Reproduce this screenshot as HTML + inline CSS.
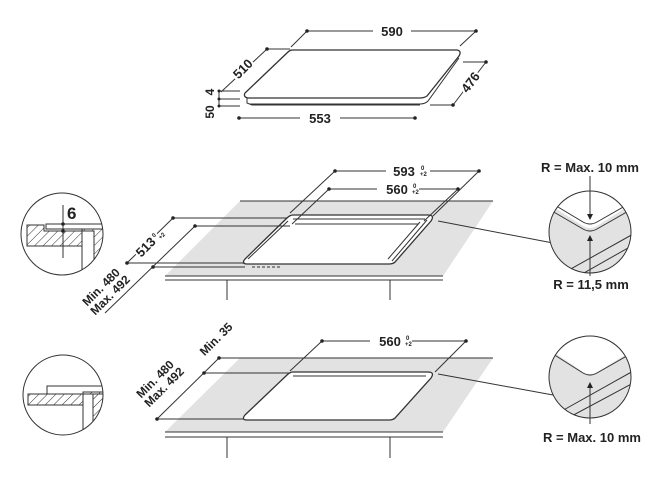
<!DOCTYPE html>
<html><head><meta charset="utf-8"><style>
html,body{margin:0;padding:0;background:#fff;}
svg{display:block;}
text{font-family:"Liberation Sans",sans-serif;font-weight:bold;fill:#222;}
</style></head><body>
<svg width="672" height="481" viewBox="0 0 672 481" xmlns="http://www.w3.org/2000/svg">
<defs>
<pattern id="h" width="6" height="6" patternUnits="userSpaceOnUse" patternTransform="rotate(45)"><line x1="0" y1="0" x2="0" y2="6" stroke="#333" stroke-width="1"/></pattern>
<clipPath id="c1"><circle cx="590" cy="232" r="41"/></clipPath>
<clipPath id="c2"><circle cx="590" cy="377" r="41"/></clipPath>
<clipPath id="c3"><circle cx="62" cy="234" r="41"/></clipPath>
<clipPath id="c4"><circle cx="63" cy="395" r="40"/></clipPath>
</defs>
<g stroke="#333" fill="none" stroke-width="1">
<!-- TOP HOB -->
<path d="M292,50 L457,50 Q462,51 459,56 L427,96 Q424,98 420,98 L248,98 Q243,97 245,93 L288,52 Q290,50 292,50 Z" stroke-width="1.3"/>
<path d="M459,58 L428,101 Q425,104 420,104 L250,104" />
<path d="M247,98 L247,103 L252,105 L420,105"/>
<line x1="307" y1="31" x2="476" y2="31"/><line x1="307" y1="31" x2="291" y2="47"/><line x1="476" y1="31" x2="460" y2="46"/>
<line x1="267" y1="49" x2="221" y2="92"/><line x1="267" y1="49" x2="290" y2="49"/>
<line x1="486" y1="62" x2="453" y2="105"/><line x1="463" y1="62" x2="486" y2="62"/><line x1="430" y1="105" x2="453" y2="105"/>
<line x1="239" y1="118" x2="415" y2="118"/>
<line x1="219" y1="91" x2="219" y2="106"/>
<line x1="219" y1="91" x2="240" y2="91"/><line x1="219" y1="99" x2="240" y2="99"/><line x1="219" y1="106" x2="240" y2="106"/>
</g>
<g fill="#222">
<circle cx="307" cy="31" r="1.8"/><circle cx="476" cy="31" r="1.8"/><circle cx="267" cy="49" r="1.8"/>
<circle cx="486" cy="62" r="1.8"/><circle cx="453" cy="105" r="1.8"/><circle cx="239" cy="118" r="1.8"/><circle cx="415" cy="118" r="1.8"/>
<circle cx="219" cy="91" r="1.5"/><circle cx="219" cy="99" r="1.5"/><circle cx="219" cy="106" r="1.5"/>
</g>
<rect x="373" y="24" width="38" height="14" fill="#fff"/><text x="392" y="36" font-size="13" text-anchor="middle">590</text>
<rect x="300" y="111" width="40" height="14" fill="#fff"/><text x="320" y="123" font-size="13" text-anchor="middle">553</text>
<text transform="translate(246,72) rotate(-45)" font-size="13" text-anchor="middle" stroke="#fff" stroke-width="4" paint-order="stroke">510</text>
<text transform="translate(474,85) rotate(-53)" font-size="13" text-anchor="middle" stroke="#fff" stroke-width="4" paint-order="stroke">476</text>
<text transform="translate(214,92) rotate(-90)" font-size="12" text-anchor="middle">4</text>
<text transform="translate(214,112) rotate(-90)" font-size="12" text-anchor="middle">50</text>

<!-- MIDDLE -->
<path d="M240,201 L493,201 L443,276 L165,276 Z" fill="#e2e2e2"/>
<g stroke="#333" fill="none" stroke-width="1">
<line x1="240" y1="201" x2="493" y2="201"/>
<line x1="165" y1="276" x2="443" y2="276"/><line x1="165" y1="280" x2="443" y2="280"/>
<line x1="227" y1="280" x2="227" y2="300"/><line x1="390" y1="280" x2="390" y2="300"/>
<path d="M293,215 L428,215 Q435,215 431,221 L395,262 Q393,264 389,264 L247,264 Q241,264 245,259 L287,218 Q290,215 293,215 Z" fill="#fff" stroke-width="1.3"/>
<path d="M295,224 L418,224 M420,222 L388,259" />
<path d="M293,219 L425,219 M427,220 L392,261 M288,221 L248,259"/>
<line x1="252" y1="267" x2="280" y2="267" stroke-dasharray="3,2"/>
<line x1="335" y1="171" x2="479" y2="171"/><line x1="479" y1="171" x2="433" y2="216"/><line x1="335" y1="171" x2="290" y2="213"/>
<line x1="329" y1="189" x2="458" y2="189"/><line x1="458" y1="189" x2="424" y2="221"/><line x1="329" y1="189" x2="292" y2="224"/>
<line x1="173" y1="218" x2="127" y2="263"/><line x1="173" y1="218" x2="287" y2="218"/><line x1="127" y1="263" x2="245" y2="263"/>
<line x1="195" y1="226" x2="105" y2="313"/><line x1="195" y1="226" x2="290" y2="226"/><line x1="153" y1="267" x2="245" y2="267"/>
<line x1="438" y1="221" x2="553" y2="243"/>
</g>
<g fill="#222"><circle cx="335" cy="171" r="1.8"/><circle cx="479" cy="171" r="1.8"/><circle cx="329" cy="189" r="1.8"/><circle cx="458" cy="189" r="1.8"/>
<circle cx="173" cy="218" r="1.8"/><circle cx="127" cy="263" r="1.8"/><circle cx="195" cy="226" r="1.8"/><circle cx="153" cy="267" r="1.8"/></g>
<rect x="386" y="163" width="44" height="14" fill="#fff"/><text x="404" y="176" font-size="13" text-anchor="middle">593</text>
<text x="421" y="170" font-size="6">0</text><text x="420" y="176" font-size="6">+2</text>
<rect x="377" y="182" width="42" height="14" fill="#fff"/><text x="397" y="194" font-size="13" text-anchor="middle">560</text>
<text x="413" y="188" font-size="6">0</text><text x="412" y="194" font-size="6">+2</text>
<text transform="translate(153,246) rotate(-45)" font-size="13" text-anchor="middle" stroke="#fff" stroke-width="4" paint-order="stroke">513<tspan font-size="6" dy="-5"> 0</tspan><tspan font-size="6" dy="6">+2</tspan></text>
<text transform="translate(104,290) rotate(-45)" font-size="12" text-anchor="middle">Min. 480</text>
<text transform="translate(113,298) rotate(-45)" font-size="12" text-anchor="middle">Max. 492</text>
<!-- left circle mid -->
<g clip-path="url(#c3)">
<path d="M27,225 L44,225 L44,231 L82,231 L82,246 L27,246 Z" fill="url(#h)" stroke="#333"/>
<rect x="46" y="224" width="60" height="5" fill="#fff" stroke="#333"/>
<path d="M82,229 L103,229 L103,276 L82,276 Z" fill="url(#h)" stroke="#333"/>
<rect x="82" y="231" width="12" height="50" fill="#fff" stroke="#333"/>
</g>
<circle cx="62" cy="234" r="41" fill="none" stroke="#333"/>
<line x1="63" y1="205" x2="63" y2="258" stroke="#333"/>
<circle cx="63" cy="224" r="1.8" fill="#222"/><circle cx="63" cy="231" r="1.8" fill="#222"/>
<text x="67" y="219" font-size="17">6</text>
<!-- right circle mid -->
<g clip-path="url(#c1)">
<rect x="540" y="180" width="100" height="110" fill="#e2e2e2"/>
<path d="M545,208 L555,208 L583,226 Q590,230 597,226 L630,205 L640,200 L640,180 L540,180 Z" fill="#fff"/>
<path d="M552,211 L583,229 Q590,233 597,229 L632,209 M553,204 L583,222 Q590,226 597,222 L632,202" stroke="#333" fill="none"/>
<path d="M560,275 L635,233 M568,282 L635,244" stroke="#333" fill="none"/>
</g>
<circle cx="590" cy="232" r="41" fill="none" stroke="#333"/>
<line x1="590" y1="176" x2="590" y2="216" stroke="#333"/><path d="M587,214 L593,214 L590,220 Z" fill="#222"/>
<line x1="590" y1="240" x2="590" y2="276" stroke="#333"/><path d="M587,241 L593,241 L590,235 Z" fill="#222"/>
<text x="590" y="172" font-size="13" text-anchor="middle">R = Max. 10 mm</text>
<text x="591" y="289" font-size="13" text-anchor="middle">R = 11,5 mm</text>

<!-- BOTTOM -->
<path d="M240,358 L493,358 L443,432 L165,432 Z" fill="#e2e2e2"/>
<g stroke="#333" fill="none" stroke-width="1">
<line x1="240" y1="358" x2="493" y2="358"/>
<line x1="165" y1="432" x2="443" y2="432"/><line x1="165" y1="437" x2="443" y2="437"/>
<line x1="227" y1="437" x2="227" y2="458"/><line x1="390" y1="437" x2="390" y2="458"/>
<path d="M293,372 L428,372 Q435,372 431,378 L395,418 Q393,420 389,420 L247,420 Q241,420 245,415 L287,375 Q290,372 293,372 Z" fill="#fff" stroke-width="1.3"/>
<path d="M293,376 L426,376"/>
<line x1="322" y1="341" x2="466" y2="341"/><line x1="466" y1="341" x2="435" y2="372"/><line x1="322" y1="341" x2="290" y2="371"/>
<line x1="219" y1="358" x2="240" y2="358"/><line x1="204" y1="373" x2="290" y2="373"/>
<line x1="219" y1="358" x2="157" y2="419"/><line x1="157" y1="419" x2="243" y2="419"/>
<line x1="438" y1="374" x2="553" y2="395"/>
</g>
<g fill="#222"><circle cx="322" cy="341" r="1.8"/><circle cx="466" cy="341" r="1.8"/><circle cx="219" cy="358" r="1.8"/><circle cx="204" cy="373" r="1.8"/><circle cx="157" cy="419" r="1.8"/></g>
<rect x="370" y="334" width="42" height="14" fill="#fff"/><text x="390" y="346" font-size="13" text-anchor="middle">560</text>
<text x="406" y="340" font-size="6">0</text><text x="405" y="346" font-size="6">+2</text>
<text transform="translate(219,342) rotate(-45)" font-size="12" text-anchor="middle">Min. 35</text>
<text transform="translate(158,382) rotate(-45)" font-size="12" text-anchor="middle">Min. 480</text>
<text transform="translate(167,390) rotate(-45)" font-size="12" text-anchor="middle">Max. 492</text>
<g clip-path="url(#c4)">
<rect x="28" y="394" width="55" height="11" fill="url(#h)" stroke="#333"/>
<rect x="47" y="386" width="60" height="8" fill="#fff" stroke="#333"/>
<path d="M83,392 L104,392 L104,440 L83,440 Z" fill="url(#h)" stroke="#333"/>
<rect x="83" y="394" width="10" height="50" fill="#fff" stroke="#333"/>
</g>
<circle cx="63" cy="395" r="40" fill="none" stroke="#333"/>
<g clip-path="url(#c2)">
<rect x="540" y="330" width="100" height="110" fill="#e2e2e2"/>
<path d="M545,350 L555,353 L583,372 Q590,376 597,372 L630,352 L640,348 L640,330 L540,330 Z" fill="#fff"/>
<path d="M553,354 L583,373 Q590,377 597,373 L632,353" stroke="#333" fill="none"/>
<path d="M560,412 L635,370 M568,418 L635,382" stroke="#333" fill="none"/>
</g>
<circle cx="590" cy="377" r="41" fill="none" stroke="#333"/>
<line x1="590" y1="386" x2="590" y2="424" stroke="#333"/><path d="M587,388 L593,388 L590,382 Z" fill="#222"/>
<text x="592" y="442" font-size="13" text-anchor="middle">R = Max. 10 mm</text>
</svg>
</body></html>
